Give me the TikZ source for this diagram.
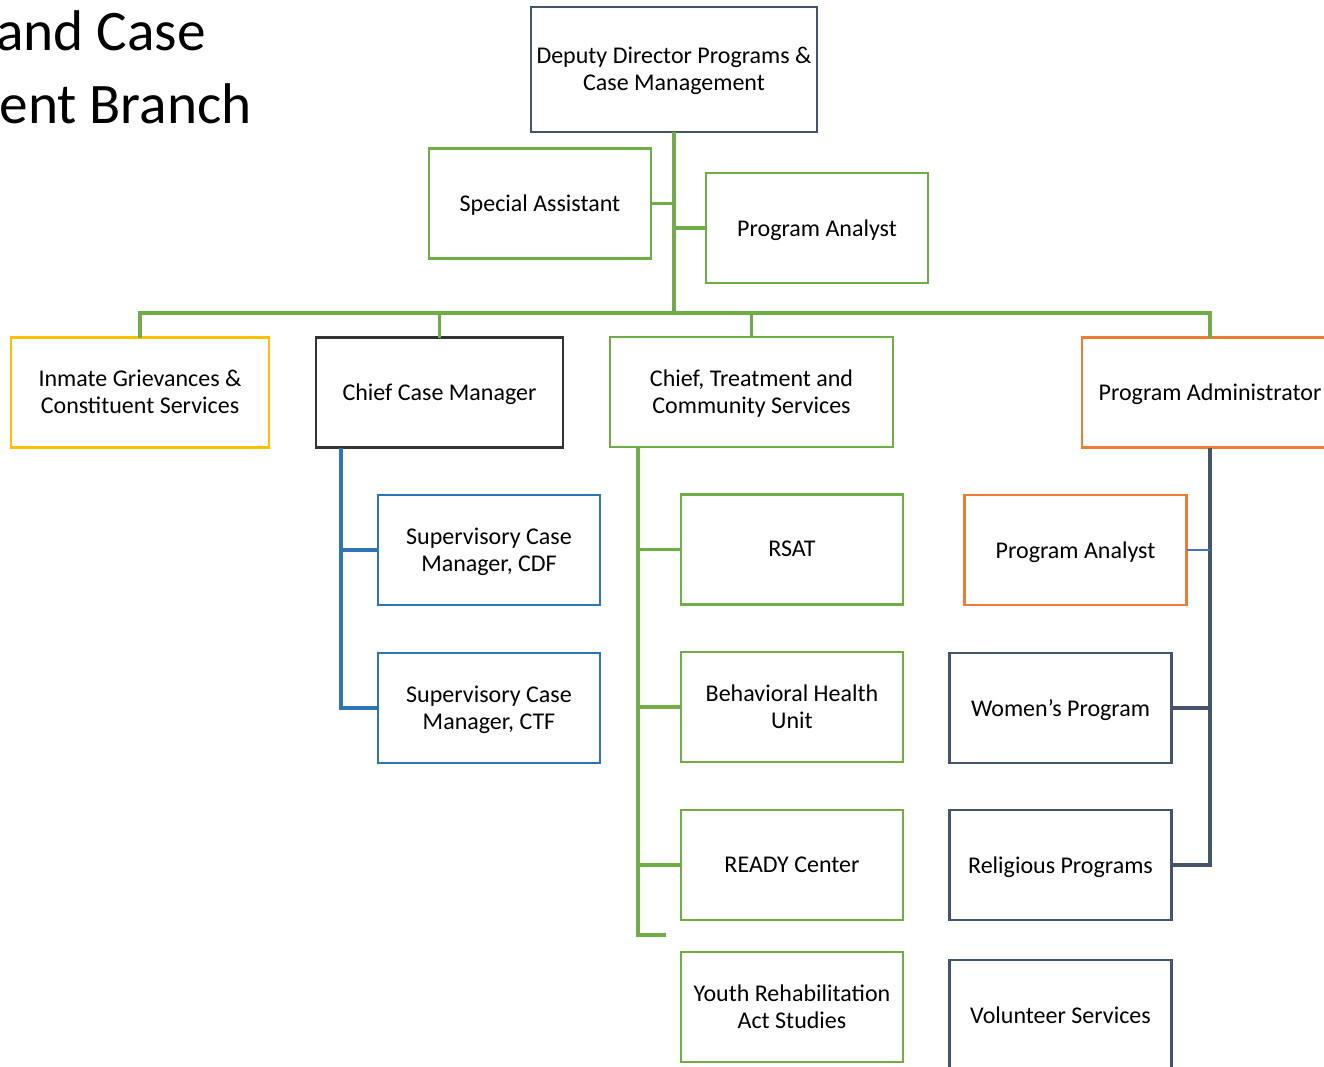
\documentclass[tikz,border=0pt]{standalone}
\usepackage{fontspec}
\setmainfont{Carlito}
\definecolor{cgreen}{HTML}{70AD47}
\definecolor{cblue}{HTML}{2E75B6}
\definecolor{corange}{HTML}{ED7D31}
\definecolor{cyellow}{HTML}{FFC000}
\definecolor{cslate}{HTML}{44546A}
\definecolor{cdark}{HTML}{333333}
\definecolor{clblue}{HTML}{4472C4}
\begin{document}
\begin{tikzpicture}[x=0.75pt,y=-0.75pt,
  box/.style={draw,line width=1.6pt,fill=white,align=center,inner sep=2pt,outer sep=0pt,
    minimum width=166.5pt,minimum height=82.5pt,text depth=0.5pt,
    font=\fontsize{18pt}{20.25pt}\selectfont,text=black},
  conn/.style={line width=2.3pt}]
\useasboundingbox (0,0) rectangle (1324,1067);
\clip (0,0) rectangle (1324,1067);
\fill[white] (0,0) rectangle (1324,1067);
% title
\node[anchor=base east,inner sep=0pt,font=\fontsize{43pt}{52pt}\selectfont] (t1) at (206,50) {and Case};
\node[anchor=base east,inner sep=0pt,font=\fontsize{43pt}{52pt}\selectfont] (t2) at (252,123) {ent Branch};
% coordinates
\coordinate (bus) at (674,313);
\coordinate (ccmT) at (341,448);
\coordinate (ctsT) at (638,447);
\coordinate (ctsE) at (666,935);
% nodes
\node[box,draw=cslate,minimum width=214.5pt,minimum height=93.75pt] (dep) at (674,69.5) {Deputy Director Programs \&\\Case Management};
\node[box,draw=cgreen] (sa) at (540,203.5) {Special Assistant};
\node[box,draw=cgreen] (pa1) at (817,228) {Program Analyst};
\node[box,draw=cyellow,minimum width=193.5pt] (ig) at (140,392.5) {Inmate Grievances \&\\Constituent Services};
\node[box,draw=cdark,minimum width=185.25pt] (ccm) at (439.5,392.5) {Chief Case Manager};
\node[box,draw=cgreen,minimum width=212.25pt] (cts) at (751.5,392) {Chief, Treatment and\\Community Services};
\node[box,draw=corange,minimum width=192pt] (padm) at (1210,392.5) {Program Administrator};
\node[box,draw=cblue] (scdf) at (489,550) {Supervisory Case\\Manager, CDF};
\node[box,draw=cblue] (sctf) at (489,708) {Supervisory Case\\Manager, CTF};
\node[box,draw=cgreen] (rsat) at (792,549.5) {RSAT};
\node[box,draw=cgreen] (bhu) at (792,707) {Behavioral Health\\Unit};
\node[box,draw=cgreen] (ready) at (792,865) {READY Center};
\node[box,draw=cgreen] (yra) at (792,1007) {Youth Rehabilitation\\Act Studies};
\node[box,draw=corange] (pa2) at (1075.5,550) {Program Analyst};
\node[box,draw=cslate] (wp) at (1060.5,708) {Women’s Program};
\node[box,draw=cslate] (rp) at (1060.5,865) {Religious Programs};
\node[box,draw=cslate] (vs) at (1060.5,1015) {Volunteer Services};
% green connectors
\begin{scope}[conn,cgreen]
\draw (dep.south) -- (bus);
\draw (sa.east) -- (sa.east -| dep.south);
\draw (pa1.west) -- (pa1.west -| dep.south);
\draw (ig.north) |- (bus) -| (padm.north);
\draw (ccm.north) -- (ccm.north |- bus);
\draw (cts.north) -- (cts.north |- bus);
\draw (ctsT) |- (ctsE);
\draw (rsat.west) -- (rsat.west -| ctsT);
\draw (bhu.west) -- (bhu.west -| ctsT);
\draw (ready.west) -- (ready.west -| ctsT);
\end{scope}
% blue connectors
\begin{scope}[conn,cblue]
\draw (ccmT) |- (sctf.west);
\draw (scdf.west) -- (scdf.west -| ccmT);
\end{scope}
% slate connectors
\begin{scope}[conn,cslate]
\draw (padm.south) |- (rp.east);
\draw[line width=3pt] (rp.east) -- (rp.east -| padm.south);
\draw (wp.east) -- (wp.east -| padm.south);
\end{scope}
\draw[line width=1.6pt,clblue] (pa2.east) -- (pa2.east -| padm.south);
\end{tikzpicture}
\end{document}
